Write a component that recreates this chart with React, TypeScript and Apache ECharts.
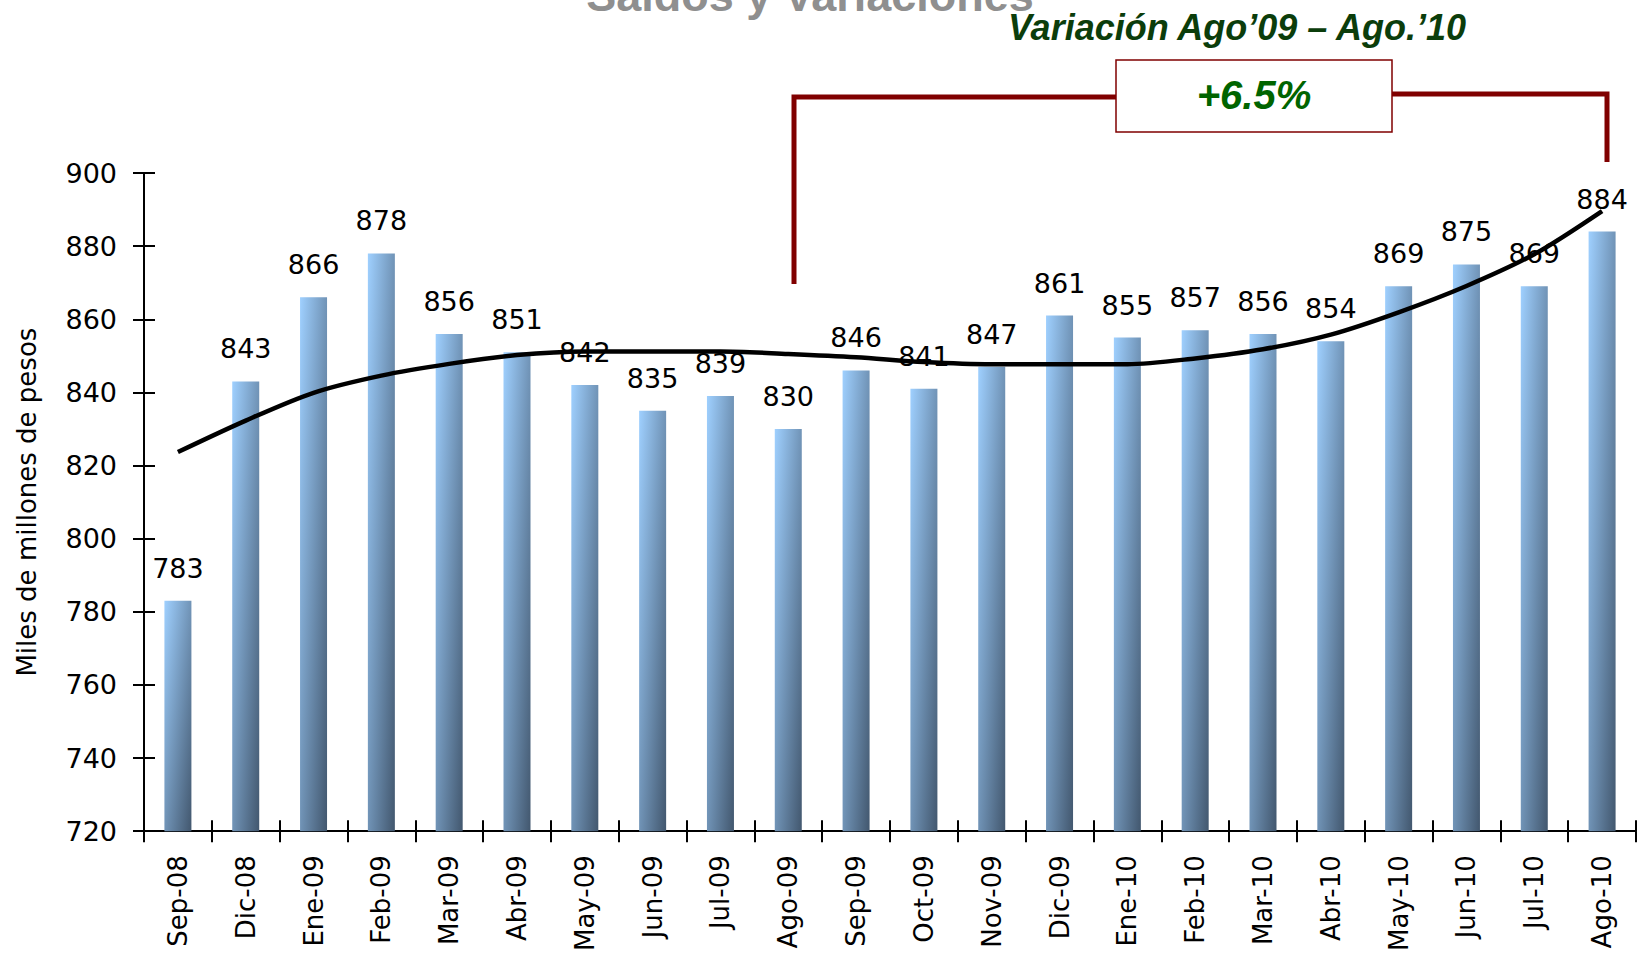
import React, { useEffect, useRef } from "react";
import * as echarts from "echarts";

const categories = [
  "Sep-08", "Dic-08", "Ene-09", "Feb-09", "Mar-09", "Abr-09", "May-09", "Jun-09",
  "Jul-09", "Ago-09", "Sep-09", "Oct-09", "Nov-09", "Dic-09", "Ene-10", "Feb-10",
  "Mar-10", "Abr-10", "May-10", "Jun-10", "Jul-10", "Ago-10",
];
const saldos = [
  783, 843, 866, 878, 856, 851, 842, 835, 839, 830, 846, 841, 847, 861, 855, 857,
  856, 854, 869, 875, 869, 884,
];
const tendencia = [
  823.7, 832.3, 839.9, 844.6, 847.8, 850.2, 851.2, 851.2, 851.2, 850.5, 849.6, 848.3,
  847.7, 847.7, 847.7, 849.3, 851.8, 855.8, 861.9, 869.1, 877.8, 889.6,
];
const yMin = 720;
const yMax = 900;
const yStep = 20;
const yAxisName = "Miles de millones de pesos";
const titleText = "Saldos y Variaciones";
const variationTitle = "Variación Ago’09 – Ago.’10";
const variationValue = "+6.5%";

const FONT = "DejaVu Sans";
const DARK_RED = "#800000";

export default function App() {
  const ref = useRef<HTMLDivElement>(null);

  useEffect(() => {
    document.body.style.margin = "0";
    const chart = echarts.init(ref.current!, undefined, { renderer: "svg" });
    const barGradient = new echarts.graphic.LinearGradient(0, 0, 1, 1, [
      { offset: 0, color: "#9fd0ff" },
      { offset: 1, color: "#42576e" },
    ]);
    chart.setOption({
      animation: false,
      grid: { left: 144, right: 3, top: 173, bottom: 120 },
      xAxis: [
        {
          type: "category",
          data: categories,
          boundaryGap: true,
          axisLine: { lineStyle: { color: "#000", width: 2 } },
          axisTick: { show: true, length: 11, lineStyle: { color: "#000", width: 2 } },
          axisLabel: {
            rotate: 90,
            margin: 24,
            color: "#000",
            fontFamily: FONT,
            fontSize: 26,
            interval: 0,
          },
        },
        {
          type: "category",
          data: categories,
          position: "bottom",
          boundaryGap: true,
          axisLine: { show: false },
          axisTick: { show: true, inside: true, length: 11, lineStyle: { color: "#000", width: 2 } },
          axisLabel: { show: false },
        },
      ],
      yAxis: [
        {
          type: "value",
          min: yMin,
          max: yMax,
          interval: yStep,
          name: yAxisName,
          nameLocation: "middle",
          nameRotate: 90,
          nameGap: 104,
          nameTextStyle: { color: "#000", fontFamily: FONT, fontSize: 26 },
          splitLine: { show: false },
          axisLine: { show: true, lineStyle: { color: "#000", width: 2 } },
          axisTick: { show: true, length: 11, lineStyle: { color: "#000", width: 2 } },
          axisLabel: { color: "#000", fontFamily: FONT, fontSize: 27, margin: 27 },
        },
        {
          type: "value",
          min: yMin,
          max: yMax,
          interval: yStep,
          position: "left",
          splitLine: { show: false },
          axisLine: { show: false },
          axisTick: { show: true, inside: true, length: 11, lineStyle: { color: "#000", width: 2 } },
          axisLabel: { show: false },
        },
      ],
      series: [
        {
          type: "bar",
          data: saldos,
          barWidth: 27,
          z: 2,
          itemStyle: { color: barGradient },
          label: {
            show: true,
            position: "top",
            distance: 19,
            color: "#000",
            fontFamily: FONT,
            fontSize: 27,
          },
        },
        {
          type: "line",
          data: tendencia,
          z: 5,
          smooth: 0.3,
          showSymbol: false,
          symbol: "none",
          lineStyle: { color: "#000", width: 4.5 },
        },
      ],
      graphic: [
        {
          type: "text",
          x: 810,
          y: -5,
          style: {
            text: titleText,
            font: "bold 45px 'Liberation Sans'",
            fill: "#8f8f8f",
            align: "center",
            verticalAlign: "middle",
            shadowColor: "rgba(0,0,0,0.35)",
            shadowOffsetX: 2,
            shadowOffsetY: 3,
            shadowBlur: 2,
          },
        },
        {
          type: "text",
          x: 1237,
          y: 27.5,
          style: {
            text: variationTitle,
            font: "italic bold 36px 'Liberation Sans'",
            fill: "#0b3d0b",
            align: "center",
            verticalAlign: "middle",
            shadowColor: "rgba(0,0,0,0.35)",
            shadowOffsetX: 2,
            shadowOffsetY: 2,
            shadowBlur: 2,
          },
        },
        {
          type: "polyline",
          shape: { points: [[794, 284], [794, 97], [1116, 97]] },
          style: { stroke: DARK_RED, lineWidth: 5, fill: null },
        },
        {
          type: "polyline",
          shape: { points: [[1392, 94], [1607, 94], [1607, 162]] },
          style: { stroke: DARK_RED, lineWidth: 5, fill: null },
        },
        {
          type: "rect",
          shape: { x: 1116, y: 60, width: 276, height: 72 },
          style: { fill: "#fff", stroke: DARK_RED, lineWidth: 1.5 },
        },
        {
          type: "text",
          x: 1254,
          y: 95,
          style: {
            text: variationValue,
            font: "italic bold 40px 'Liberation Sans'",
            fill: "#006400",
            align: "center",
            verticalAlign: "middle",
            shadowColor: "rgba(0,0,0,0.35)",
            shadowOffsetX: 2,
            shadowOffsetY: 2,
            shadowBlur: 2,
          },
        },
      ],
    });
    return () => chart.dispose();
  }, []);

  return <div ref={ref} style={{ width: 1639, height: 954 }} />;
}
